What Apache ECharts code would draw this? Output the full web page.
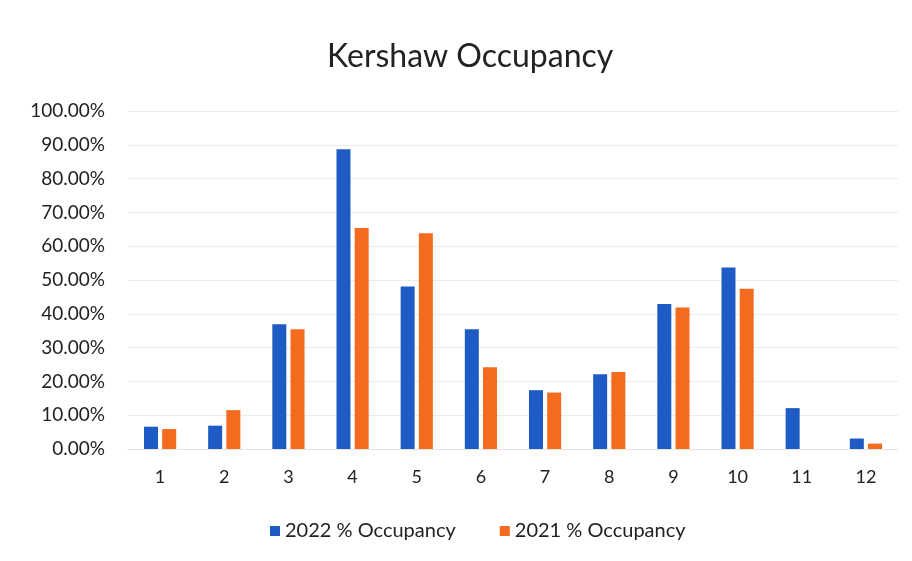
<!DOCTYPE html>
<html>
<head>
<meta charset="utf-8">
<script src="https://cdn.jsdelivr.net/npm/echarts@6/dist/echarts.min.js"></script>
<style>
  html, body { margin: 0; padding: 0; background: #fff; }
  #chart { width: 912px; height: 561px; }
</style>
</head>
<body>
<div id="chart"></div>
<script>
// months 1..12
const months = ["1", "2", "3", "4", "5", "6", "7", "8", "9", "10", "11", "12"];
const occ2022 = [0.066, 0.069, 0.369, 0.887, 0.481, 0.354, 0.174, 0.221, 0.429, 0.537, 0.121, 0.031];
const occ2021 = [0.059, 0.115, 0.354, 0.654, 0.638, 0.242, 0.167, 0.228, 0.419, 0.474, null, 0.016];
const seriesNames = ["2022 % Occupancy", "2021 % Occupancy"];

const font = "Lato, 'Open Sans', sans-serif";
const myChart = echarts.init(document.getElementById("chart"));

const option = {
    backgroundColor: "#fff",
    animation: false,
    title: {
        text: "Kershaw Occupancy",
        left: 322,
        top: 36,
        textStyle: {
            fontFamily: font,
            fontSize: 32,
            fontWeight: "normal",
            color: "#222"
        }
    },
    legend: {
        data: seriesNames,
        left: 265,
        top: 516,
        itemWidth: 10,
        itemHeight: 10,
        itemGap: 44,
        icon: "rect",
        textStyle: {
            fontFamily: font,
            fontSize: 20,
            color: "#222"
        }
    },
    grid: {
        left: 128,
        right: 14,
        top: 111,
        bottom: 112
    },
    xAxis: {
        type: "category",
        data: months,
        axisTick: { show: false },
        axisLine: { lineStyle: { color: "#e4e4e4" } },
        axisLabel: {
            fontFamily: font,
            fontSize: 18,
            color: "#222",
            margin: 19
        }
    },
    yAxis: {
        type: "value",
        min: 0,
        max: 1,
        interval: 0.1,
        axisLine: { show: false },
        axisTick: { show: false },
        splitLine: { lineStyle: { color: "#ececec" } },
        axisLabel: {
            fontFamily: font,
            fontSize: 19,
            color: "#222",
            margin: 23,
            formatter: (v) => (v * 100).toFixed(2) + "%"
        }
    },
    series: [
        {
            name: seriesNames[0],
            type: "bar",
            data: occ2022,
            barWidth: 14,
            barGap: "30%",
            itemStyle: { color: "#1f5bc4" }
        },
        {
            name: seriesNames[1],
            type: "bar",
            data: occ2021,
            barWidth: 14,
            itemStyle: { color: "#f46a1e" }
        }
    ]
};

myChart.setOption(option, true);
</script>
</body>
</html>
